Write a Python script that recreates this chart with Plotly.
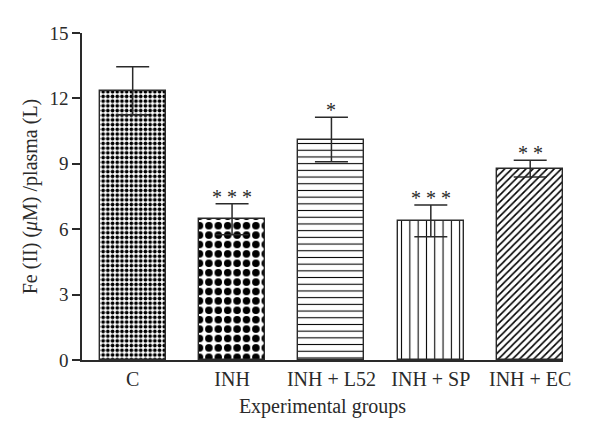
import plotly.graph_objects as go

categories = ["C", "INH", "INH + L52", "INH + SP", "INH + EC"]
means = [12.35, 6.46, 10.11, 6.38, 8.78]
errors = [1.1, 0.71, 1.02, 0.73, 0.38]
stars = ["", "* * *", "*", "* * *", "* *"]
y_ticks = [0, 3, 6, 9, 12, 15]

pattern_shapes = [".", ".", "-", "|", "/"]
pattern_sizes = [4.7, 9.4, 6.7, 8.3, 5]
pattern_solidity = [0.5, 0.5, 0.16, 0.13, 0.32]

FONT = "Liberation Serif"
INK = "#2a2a2a"

fig = go.Figure()
for i, cat in enumerate(categories):
    fig.add_trace(go.Bar(
        x=[i], y=[means[i]],
        width=0.665,
        marker=dict(
            color="white",
            line=dict(color=INK, width=1.4),
            pattern=dict(shape=pattern_shapes[i], size=pattern_sizes[i],
                         solidity=pattern_solidity[i], fgcolor="black",
                         bgcolor="white", fillmode="replace"),
        ),
        error_y=dict(type="data", array=[errors[i]], visible=True,
                     color=INK, thickness=1.5, width=16.5),
        showlegend=False,
        hoverinfo="skip",
    ))

for i, s in enumerate(stars):
    if s:
        fig.add_annotation(x=i, y=means[i] + errors[i], text=s, showarrow=False,
                           yanchor="bottom", yshift=-6,
                           font=dict(family=FONT, size=20, color=INK))

fig.update_layout(
    width=600, height=442,
    margin=dict(l=74, r=45, t=24.5, b=90),
    paper_bgcolor="white", plot_bgcolor="white",
    font=dict(family=FONT, size=20, color=INK),
    bargap=0,
    xaxis=dict(
        range=[-0.51, 4.33],
        tickmode="array", tickvals=list(range(len(categories))), ticktext=categories,
        showline=True, linecolor=INK, linewidth=1.5,
        ticks="", showgrid=False, zeroline=False,
        tickfont=dict(family=FONT, size=20, color=INK),
        title=dict(text="Experimental groups", font=dict(family=FONT, size=20, color=INK), standoff=10),
    ),
    yaxis=dict(
        range=[0, 15],
        tickmode="array", tickvals=y_ticks,
        showline=True, linecolor=INK, linewidth=1.5,
        ticks="outside", ticklen=8, tickwidth=1.5, tickcolor=INK,
        showgrid=False, zeroline=False,
        tickfont=dict(family=FONT, size=19, color=INK),
        title=dict(text="Fe (II) (<i>μ</i>M) /plasma (L)", font=dict(family=FONT, size=20, color=INK), standoff=6),
    ),
)

fig.write_html("out.html")
